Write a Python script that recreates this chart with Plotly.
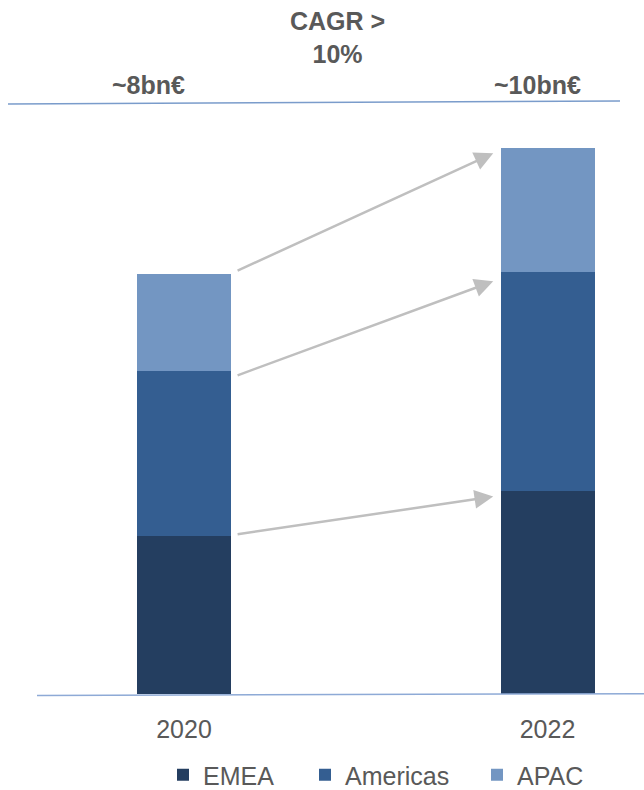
import plotly.graph_objects as go

# ---- data ----
years = ["2020", "2022"]
regions = ["EMEA", "Americas", "APAC"]
emea = [3.01, 3.87]
americas = [3.14, 4.17]
apac = [1.85, 2.36]
cagr_text = "CAGR ><br>10%"
total_labels = ["~8bn€", "~10bn€"]

colors = {"EMEA": "#243E60", "Americas": "#345E91", "APAC": "#7396C2"}
series = {"EMEA": emea, "Americas": americas, "APAC": apac}

W, H = 644, 790
FONT = "Liberation Sans, Arial, sans-serif"
GREY = "#595959"
xpos = [0, 1]
bar_w = 0.2586
legend_ids = ["legend", "legend2", "legend3"]
legend_left_px = [163, 305, 477]

plot_h = 694
def py(p):
    return (plot_h - p) / plot_h

fig = go.Figure()
for r, lg in zip(regions, legend_ids):
    fig.add_trace(go.Bar(
        x=xpos, y=series[r], name=r, width=bar_w, legend=lg,
        marker=dict(color=colors[r], line=dict(width=0)),
    ))

# arrows linking cumulative segment tops
cum20, cum22 = 0.0, 0.0
tail_off = [0.03, -0.09, 0.05]
tip_off = [-0.11, -0.18, -0.10]
for i, r in enumerate(regions):
    cum20 += series[r][0]
    cum22 += series[r][1]
    fig.add_annotation(
        x=xpos[1] - bar_w / 2 - 0.02, y=cum22 + tip_off[i],
        ax=xpos[0] + bar_w / 2 + 0.014, ay=cum20 + tail_off[i],
        xref="x", yref="y", axref="x", ayref="y",
        text="", showarrow=True, arrowhead=2, arrowsize=1.5,
        arrowwidth=2.5, arrowcolor="#BFBFBF", standoff=0, startstandoff=0,
    )

# header texts
hdr = dict(xref="paper", yref="paper", showarrow=False,
           xanchor="center", yanchor="middle",
           font=dict(family=FONT, size=25, color=GREY))
fig.add_annotation(x=337 / W, y=py(37), text="<b>" + cagr_text + "</b>",
                   align="center", **hdr)
fig.add_annotation(x=148 / W, y=py(85), text="<b>" + total_labels[0] + "</b>", **hdr)
fig.add_annotation(x=537 / W, y=py(85), text="<b>" + total_labels[1] + "</b>", **hdr)

# header rule and baseline
fig.add_shape(type="line", xref="paper", yref="paper",
              x0=8 / W, y0=py(104), x1=620 / W, y1=py(101),
              line=dict(color="#7A9CCB", width=1.5))
fig.add_shape(type="line", xref="paper", yref="paper",
              x0=37 / W, y0=py(695.5), x1=1, y1=py(693.7),
              line=dict(color="#8EAAD6", width=1.5))

legend_common = dict(orientation="h", xanchor="left", y=py(775),
                     yanchor="middle", bgcolor="rgba(0,0,0,0)",
                     font=dict(family=FONT, size=25, color=GREY))

fig.update_layout(
    width=W, height=H, barmode="stack",
    margin=dict(l=0, r=0, t=0, b=H - plot_h, autoexpand=False),
    paper_bgcolor="white", plot_bgcolor="white",
    font=dict(family=FONT, color=GREY),
    xaxis=dict(range=[-184 / 363.5, (W - 184) / 363.5], tickvals=xpos,
               ticktext=years, showgrid=False, zeroline=False, showline=False,
               ticks="outside", ticklen=13, tickcolor="rgba(0,0,0,0)",
               tickfont=dict(family=FONT, size=25, color=GREY)),
    yaxis=dict(range=[0, plot_h / 52.5], visible=False, showgrid=False),
    legend=dict(x=legend_left_px[0] / W, **legend_common),
    legend2=dict(x=legend_left_px[1] / W, **legend_common),
    legend3=dict(x=legend_left_px[2] / W, **legend_common),
    showlegend=True,
)

fig.write_html("out.html")
